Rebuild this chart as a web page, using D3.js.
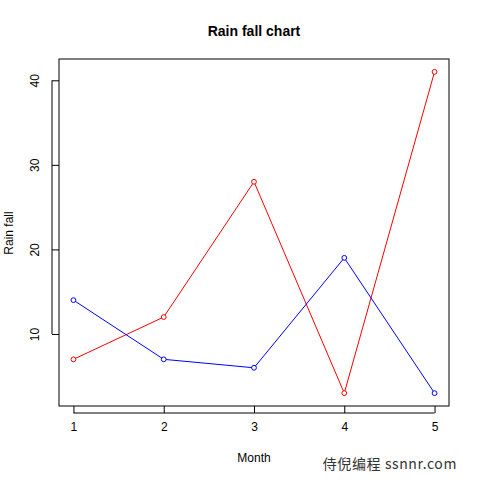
<!DOCTYPE html>
<html>
<head>
<meta charset="utf-8">
<script src="https://cdn.jsdelivr.net/npm/d3@7"></script>
<style>
  body { margin: 0; background: #fff; }
  text { font-family: "Liberation Sans", Arial, sans-serif; }
</style>
</head>
<body>
<div id="chart"></div>
<script>
let months = [1, 2, 3, 4, 5];
let rainRed = [7, 12, 28, 3, 41];
let rainBlue = [14, 7, 6, 19, 3];
let yTicks = [10, 20, 30, 40];

let width = 480;
let height = 480;
let margin = { top: 59, bottom: 74, left: 59, right: 31 };

let svg = d3.select('#chart')
  .append('svg')
  .attr('width', width)
  .attr('height', height)
  .style('background-color', '#fff');

// R style axis: data range padded by 4%
let allVals = rainRed.concat(rainBlue);
let yMin = d3.min(allVals), yMax = d3.max(allVals);
let yPad = (yMax - yMin) * 0.04;
let xPad = (d3.max(months) - d3.min(months)) * 0.04;

let xScale = d3.scaleLinear()
  .domain([d3.min(months) - xPad, d3.max(months) + xPad])
  .range([margin.left, width - margin.right]);

let yScale = d3.scaleLinear()
  .domain([yMin - yPad, yMax + yPad])
  .range([height - margin.bottom, margin.top]);

// box
svg.append('rect')
  .attr('x', margin.left)
  .attr('y', margin.top)
  .attr('width', width - margin.left - margin.right)
  .attr('height', height - margin.top - margin.bottom)
  .attr('fill', 'none')
  .attr('stroke', '#000')
  .attr('stroke-width', 1);

// x axis
let xAxis = svg.append('g')
  .attr('transform', `translate(0,${height - margin.bottom + 7})`)
  .call(d3.axisBottom(xScale).tickValues(months).tickFormat(d3.format('d'))
    .tickSize(7).tickSizeOuter(0).tickPadding(6));
xAxis.select('.domain').attr('d', `M${xScale(1)},0H${xScale(5)}`);
xAxis.selectAll('line').attr('y1', -7).attr('y2', 0);
xAxis.selectAll('text').attr('font-size', 12).attr('fill', '#000')
  .attr('font-family', '"Liberation Sans", Arial, sans-serif')
  .attr('y', 9).attr('dy', '0.71em');

// y axis
let yAxis = svg.append('g')
  .attr('transform', `translate(${margin.left - 7},0)`)
  .call(d3.axisLeft(yScale).tickValues(yTicks).tickFormat(d3.format('d'))
    .tickSize(7).tickSizeOuter(0));
yAxis.select('.domain').attr('d', `M0,${yScale(10)}V${yScale(40)}`);
yAxis.selectAll('line').attr('x1', 0).attr('x2', 7);
yAxis.selectAll('.tick text')
  .attr('font-size', 12).attr('fill', '#000')
  .attr('font-family', '"Liberation Sans", Arial, sans-serif')
  .attr('x', null).attr('dy', null)
  .attr('text-anchor', 'middle')
  .attr('transform', 'translate(-13,0) rotate(-90)');

// lines and points
function drawSeries(vals, color) {
  let line = d3.line()
    .x(function(d, i) { return xScale(months[i]); })
    .y(function(d) { return yScale(d); });
  svg.append('path')
    .datum(vals)
    .attr('d', line)
    .attr('fill', 'none')
    .attr('stroke', color)
    .attr('stroke-width', 1);
  svg.selectAll(null)
    .data(vals)
    .enter()
    .append('circle')
    .attr('cx', function(d, i) { return xScale(months[i]); })
    .attr('cy', function(d) { return yScale(d); })
    .attr('r', 2.4)
    .attr('fill', '#fff')
    .attr('stroke', color)
    .attr('stroke-width', 1);
}
drawSeries(rainRed, '#ff0000');
drawSeries(rainBlue, '#0000ff');

// labels
svg.append('text')
  .attr('x', 254).attr('y', 36)
  .attr('text-anchor', 'middle')
  .attr('font-size', 14).attr('font-weight', 'bold')
  .text('Rain fall chart');

svg.append('text')
  .attr('x', 254).attr('y', 462)
  .attr('text-anchor', 'middle')
  .attr('font-size', 12)
  .text('Month');

svg.append('text')
  .attr('transform', 'translate(13,233) rotate(-90)')
  .attr('text-anchor', 'middle')
  .attr('font-size', 12)
  .text('Rain fall');

svg.append('text')
  .attr('x', 457).attr('y', 469)
  .attr('text-anchor', 'end')
  .attr('font-size', 14)
  .attr('letter-spacing', 0.6)
  .attr('fill', '#333')
  .style('font-family', '"Noto Sans CJK SC", "Noto Sans", sans-serif')
  .text('侍倪编程 ssnnr.com');
</script>
</body>
</html>
